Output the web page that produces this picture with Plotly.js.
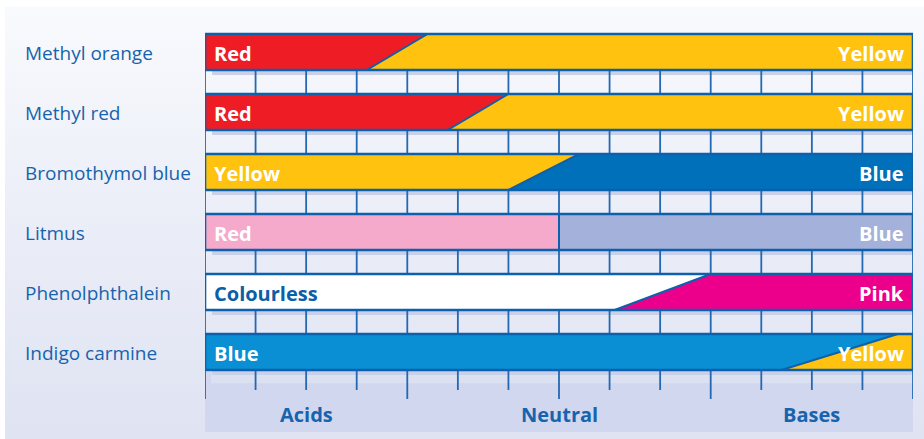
<!DOCTYPE html>
<html>
<head>
<meta charset="utf-8">
<script src="https://cdn.plot.ly/plotly-3.0.1.min.js"></script>
<style>
  html, body { margin: 0; padding: 0; background: #ffffff; }
  #wrap { position: relative; width: 924px; height: 439px; overflow: hidden; }
  #panel { position: absolute; left: 5px; top: 7px; right: 0; bottom: 0;
           background: linear-gradient(180deg, #f9fafd 0%, #eceff8 45%, #dfe3f2 100%); }
  #chart { position: absolute; left: 0; top: 0; width: 924px; height: 439px; }
</style>
</head>
<body>
<div id="wrap"><div id="panel"></div><div id="chart"></div></div>
<script>
// ---- data ----
const indicators = ["Methyl orange", "Methyl red", "Bromothymol blue", "Litmus", "Phenolphthalein", "Indigo carmine"];
const lowLabels  = ["Red", "Red", "Yellow", "Red", "Colourless", "Blue"];
const highLabels = ["Yellow", "Yellow", "Blue", "Blue", "Pink", "Yellow"];
const lowColors  = ["#ee1c25", "#ee1c25", "#ffc20f", "#f5aacb", "#ffffff", "#0a8fd4"];
const highColors = ["#ffc20f", "#ffc20f", "#0070bb", "#a4b1da", "#ec008b", "#ffc20f"];
const lowLabelColors = ["#ffffff", "#ffffff", "#ffffff", "#ffffff", "#0b5ea8", "#ffffff"];
// pH where colour change begins (bottom edge of bar) and ends (top edge of bar)
const changeStart = [3.2, 4.8, 6.0, 7.0, 8.1, 11.4];
const changeEnd   = [4.4, 6.0, 7.4, 7.0, 10.0, 13.7];
const phMin = 0, phMax = 14;
const phSteps = [0,1,2,3,4,5,6,7,8,9,10,11,12,13,14];
const majorTicks = [0, 4, 7, 10, 14];
const regionLabels = ["Acids", "Neutral", "Bases"];
const regionPH = [2, 7, 12];

// ---- styles ----
const H = 0.3;               // half bar height in row units
const outline = "#0d60ab";
const gridCol = "#2468b2";
const textBlue = "#1763ad";
const font = "Open Sans, Noto Sans, sans-serif";
const shadowCol = "#c9d0e8";
const shortTickEnd = 5.633, longTickEnd = 5.783;

const traces = [];
const shapes = [];
const annotations = [];

// bottom label band
shapes.push({type: "rect", xref: "x", yref: "y", layer: "below",
  x0: phMin - 0.04, x1: phMax + 0.04, y0: 5.333, y1: 6.333,
  fillcolor: "#d0d7ee", line: {width: 0}});
shapes.push({type: "rect", xref: "x", yref: "y", layer: "below",
  x0: phMin + 0.12, x1: phMax, y0: 5.35, y1: 5.52,
  fillcolor: "#dce1f1", line: {width: 0}});

// shadows
indicators.forEach((name, i) => {
  shapes.push({type: "rect", xref: "x", yref: "y", layer: "below",
    x0: phMin + 0.14, x1: phMax + 0.15, y0: i - H + 0.09, y1: i + H + 0.085,
    fillcolor: shadowCol, line: {width: 0}});
});

// grid lines (in gaps + tick region)
const gx = [], gy = [];
indicators.forEach((name, i) => {
  if (i === indicators.length - 1) return;
  phSteps.forEach(p => {
    if (p === phMin || p === phMax) return;
    gx.push(p, p, null); gy.push(i + H, i + 1 - H, null);
  });
});
phSteps.forEach(p => {
  const end = majorTicks.includes(p) ? longTickEnd : shortTickEnd;
  const start = (p === phMin || p === phMax) ? -H : indicators.length - 1 + H;
  gx.push(p, p, null); gy.push(start, end, null);
});
traces.push({type: "scatter", mode: "lines", x: gx, y: gy, hoverinfo: "skip",
  line: {color: gridCol, width: 1.8}, showlegend: false});

// bars
indicators.forEach((name, i) => {
  const top = i - H, bot = i + H;
  traces.push({type: "scatter", mode: "lines", fill: "toself", hoverinfo: "skip", showlegend: false,
    x: [phMin, changeEnd[i], changeStart[i], phMin, phMin],
    y: [top, top, bot, bot, top],
    fillcolor: lowColors[i], line: {width: 0, color: lowColors[i]}});
  traces.push({type: "scatter", mode: "lines", fill: "toself", hoverinfo: "skip", showlegend: false,
    x: [changeEnd[i], phMax, phMax, changeStart[i], changeEnd[i]],
    y: [top, top, bot, bot, top],
    fillcolor: highColors[i], line: {width: 0, color: highColors[i]}});
  // transition edge
  traces.push({type: "scatter", mode: "lines", hoverinfo: "skip", showlegend: false,
    x: [changeEnd[i], changeStart[i]], y: [top, bot],
    line: {color: outline, width: 2}});
  // outline
  shapes.push({type: "rect", xref: "x", yref: "y", layer: "above",
    x0: phMin, x1: phMax, y0: top, y1: bot,
    line: {color: outline, width: 2.6}, fillcolor: "rgba(0,0,0,0)"});

  // labels
  annotations.push({xref: "paper", yref: "y", x: -0.2572, y: i, xanchor: "left", yanchor: "middle", yshift: -1,
    text: name, showarrow: false, font: {family: font, size: 19, color: textBlue}});
  annotations.push({xref: "x", yref: "y", x: phMin, y: i, xanchor: "left", yanchor: "middle", xshift: 7, yshift: -1,
    text: "<b>" + lowLabels[i] + "</b>", showarrow: false,
    font: {family: font, size: 20, color: lowLabelColors[i]}});
  annotations.push({xref: "x", yref: "y", x: phMax, y: i, xanchor: "right", yanchor: "middle", xshift: -7, yshift: -1,
    text: "<b>" + highLabels[i] + "</b>", showarrow: false,
    font: {family: font, size: 20, color: "#ffffff"}});
});

regionLabels.forEach((t, k) => {
  annotations.push({xref: "x", yref: "y", x: regionPH[k], y: 6.0, xanchor: "center", yanchor: "middle", yshift: -2,
    text: "<b>" + t + "</b>", showarrow: false, font: {family: font, size: 20, color: textBlue}});
});

const layout = {
  width: 924, height: 439,
  margin: {l: 205, r: 11, t: 0, b: 0, pad: 0},
  paper_bgcolor: "rgba(0,0,0,0)", plot_bgcolor: "rgba(0,0,0,0)",
  xaxis: {range: [phMin, phMax], visible: false, fixedrange: true},
  yaxis: {range: [(439 - 52) / 60, -52 / 60], visible: false, fixedrange: true},
  shapes: shapes, annotations: annotations, showlegend: false,
  hovermode: false
};

Plotly.newPlot("chart", traces, layout, {staticPlot: true, displayModeBar: false});
</script>
</body>
</html>
